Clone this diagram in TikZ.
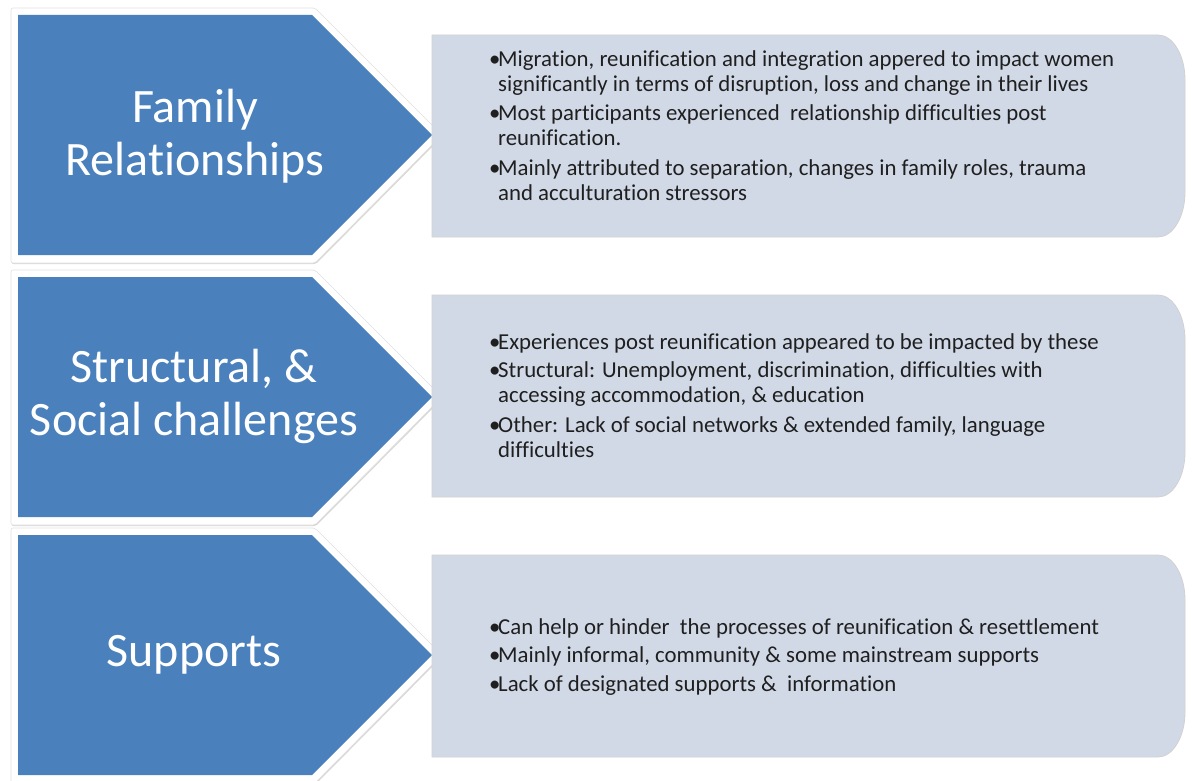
\documentclass[tikz,border=0pt]{standalone}
\usepackage{fontspec}
\setmainfont{Carlito}[Ligatures=NoCommon]
\usetikzlibrary{shadows}
\definecolor{arrowblue}{HTML}{4A80BC}
\definecolor{boxfill}{HTML}{D1D9E7}
\newcommand\bul{\makebox[9pt][l]{•}}
\newcommand\ind{\hspace*{9pt}}
\newcommand\chevron[1]{%
  \path[outer] (11,{#1-7}) -- (315,{#1-7}) -- (442,{#1+120}) -- (315,{#1+248}) -- (11,{#1+248}) -- cycle;
  \path[inner] (18,#1) -- (312,#1) -- (432,{#1+120}) -- (312,{#1+240}) -- (18,{#1+240}) -- cycle;}
\newcommand\panel[2]{%
  \path[panelbox] (432,#1) -- (1158,#1) arc[start angle=-90,end angle=0,x radius=27,y radius=45]
    -- (1185,{#2-45}) arc[start angle=0,end angle=90,x radius=27,y radius=45] -- (432,#2) -- cycle;}
\begin{document}
\begin{tikzpicture}[x=1pt,y=-1pt,
  outer/.style={fill=white, draw=black!12, line width=0.6pt, rounded corners=2pt,
    drop shadow={shadow xshift=0.8pt, shadow yshift=-1.2pt, opacity=0.22, fill=black!70}},
  inner/.style={fill=arrowblue},
  title/.style={text=white, font=\fontsize{48}{53}\selectfont, align=center, inner sep=0pt},
  panelbox/.style={fill=boxfill, draw=black!18, line width=0.8pt},
  body/.style={font=\fontsize{22.8}{25}\selectfont, align=left, anchor=north west, inner sep=0pt, text=black!88}]
\useasboundingbox (0,0) rectangle (1193,781);
\fill[white] (0,0) rectangle (1193,781);

\chevron{15}
\chevron{277}
\chevron{535}

\panel{35}{237}
\panel{295}{497}
\panel{555}{757}

\node[title] (t1) at (195,136) {Family\\Relationships};
\node[title] (t2) at (194,396) {Structural, \&\\Social challenges};
\node[title] (t3) at (194,655) {Supports};

\node[body] (b1) at (489,50) {%
\bul Migration, reunification and integration appered to impact women\\
\ind significantly in terms of disruption, loss and change in their lives\\[4.5pt]
\bul Most participants experienced\ \ relationship difficulties post\\
\ind reunification.\\[4.5pt]
\bul Mainly attributed to separation, changes in family roles, trauma\\
\ind and acculturation stressors};

\node[body] (b2) at (489,333) {%
\bul Experiences post reunification appeared to be impacted by these\\[3.5pt]
\bul Structural: Unemployment, discrimination, difficulties with\\
\ind accessing accommodation, \& education\\[5pt]
\bul Other: Lack of social networks \& extended family, language\\
\ind difficulties};

\node[body] (b3) at (489,618) {%
\bul Can help or hinder\ \ the processes of reunification \& resettlement\\[3.5pt]
\bul Mainly informal, community \& some mainstream supports\\[3.5pt]
\bul Lack of designated supports \&\ \ information};
\end{tikzpicture}
\end{document}
